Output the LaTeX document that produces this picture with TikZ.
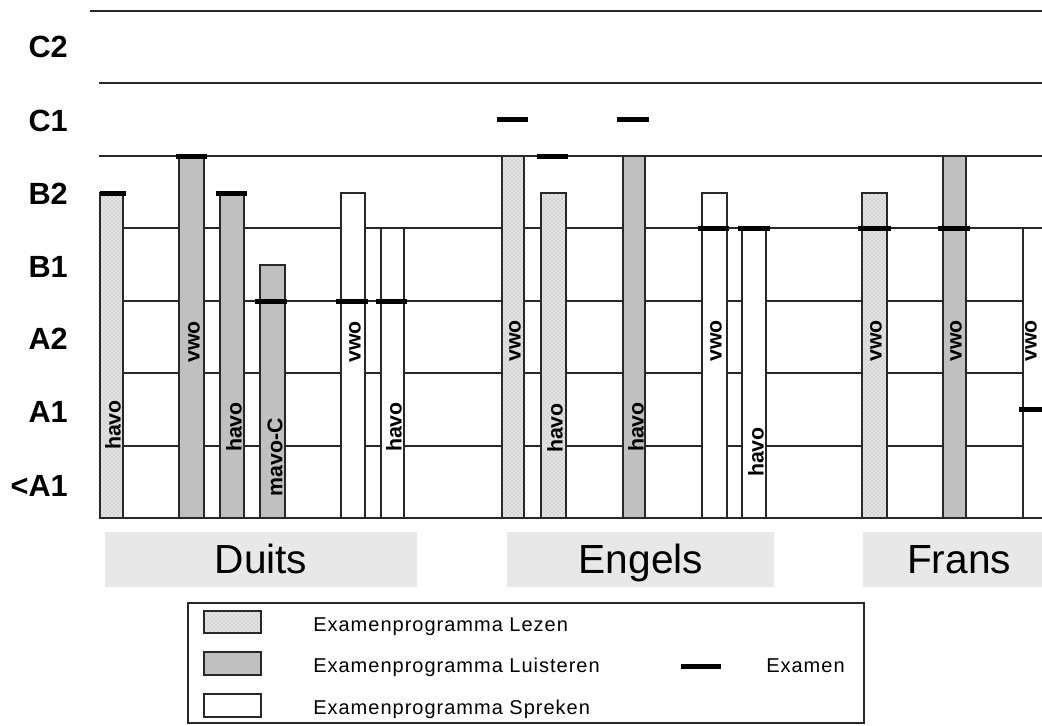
\documentclass[tikz,border=0pt]{standalone}
\usepackage{fontspec}
\setmainfont{Liberation Sans}
\newfontfamily\legfont[LetterSpace=5]{Liberation Sans}
\usetikzlibrary{patterns}
\definecolor{lezenbg}{RGB}{228,228,228}
\definecolor{lezendot}{RGB}{160,160,160}
\definecolor{luistc}{RGB}{192,192,192}
\definecolor{catbg}{RGB}{232,232,232}
\definecolor{linec}{RGB}{40,40,40}
\begin{document}
\begin{tikzpicture}[x=0.75pt,y=-0.75pt,
  gridline/.style={draw=linec,line width=0.8pt},
  barbase/.style={draw=linec,line width=0.8pt},
  lezen/.style={barbase,preaction={fill=lezenbg},pattern=crosshatch dots,pattern color=lezendot},
  luist/.style={barbase,fill=luistc},
  spreken/.style={barbase,fill=white},
  exammark/.style={draw=black,line width=3.75pt},
  levellab/.style={anchor=east,inner sep=0pt,font=\fontsize{23}{27}\selectfont\bfseries},
  barlab/.style={rotate=90,inner sep=0pt,font=\fontsize{16}{19}\selectfont\bfseries},
  catbox/.style={fill=catbg,draw=none},
  catlab/.style={anchor=base,inner sep=0pt,font=\fontsize{30.5}{36}\selectfont},
  legtext/.style={anchor=base west,inner sep=0pt,font=\legfont\fontsize{15}{18}\selectfont}
]
\useasboundingbox (0,0) rectangle (1042,725);
\clip (0,0) rectangle (1042,725);
\fill[white] (0,0) rectangle (1042,725);

% level grid lines
\draw[gridline] (90,11) -- (1042,11);
\foreach \yy in {83,156,228,301,373,446,518}
  \draw[gridline] (99,\yy) -- (1042,\yy);

% level labels
\node[levellab] (lC2) at (68,47) {C2};
\node[levellab] (lC1) at (68,121) {C1};
\node[levellab] (lB2) at (68,194) {B2};
\node[levellab] (lB1) at (68,267) {B1};
\node[levellab] (lA2) at (68,339) {A2};
\node[levellab] (lA1) at (68,412) {A1};
\node[levellab] (lA0) at (68,486) {<A1};

% Duits bars
\draw[lezen]   (100,193) rectangle (123,518);
\draw[luist]   (179,156) rectangle (204,518);
\draw[luist]   (220,193) rectangle (244,518);
\draw[luist]   (260,265) rectangle (285,518);
\draw[spreken] (341,193) rectangle (365,518);
\draw[spreken] (381,228) rectangle (404,518);
% Engels bars
\draw[lezen]   (502,156) rectangle (524,518);
\draw[lezen]   (541,193) rectangle (566,518);
\draw[luist]   (623,156) rectangle (645,518);
\draw[spreken] (702,193) rectangle (727,518);
\draw[spreken] (742,228) rectangle (766,518);
% Frans bars
\draw[lezen]   (862,193) rectangle (887,518);
\draw[luist]   (943,156) rectangle (966,518);
\draw[spreken] (1023,228) rectangle (1048,518);

% exam marks
\draw[exammark] (100,193) -- (126,193);
\draw[exammark] (176,156) -- (207,156);
\draw[exammark] (216,193) -- (247,193);
\draw[exammark] (255,301) -- (287,301);
\draw[exammark] (336,301) -- (368,301);
\draw[exammark] (376,301) -- (407,301);
\draw[exammark] (497,119) -- (528,119);
\draw[exammark] (537,156) -- (568,156);
\draw[exammark] (617,119) -- (649,119);
\draw[exammark] (698,228) -- (729,228);
\draw[exammark] (738,228) -- (770,228);
\draw[exammark] (858,228) -- (891,228);
\draw[exammark] (938,228) -- (970,228);
\draw[exammark] (1019,409) -- (1050,409);

% bar labels
\node[barlab] (d1) at (113,425) {havo};
\node[barlab] (d2) at (194,342) {vwo};
\node[barlab] (d3) at (234,427) {havo};
\node[barlab] (d4) at (275,457) {mavo-C};
\node[barlab] (d5) at (355,342) {vwo};
\node[barlab] (d6) at (394,427) {havo};
\node[barlab] (e1) at (515,341) {vwo};
\node[barlab] (e2) at (555,428) {havo};
\node[barlab] (e3) at (636,427) {havo};
\node[barlab] (e4) at (716,341) {vwo};
\node[barlab] (e5) at (756,452) {havo};
\node[barlab] (f1) at (876,341) {vwo};
\node[barlab] (f2) at (956,341) {vwo};
\node[barlab] (f3) at (1031,341) {vwo};

% category boxes
\fill[catbox] (105,532) rectangle (417,587);
\fill[catbox] (507,532) rectangle (774,587);
\fill[catbox] (863,532) rectangle (1055,587);
\node[catlab] (cD) at (261,573) {Duits};
\node[catlab] (cE) at (641,573) {Engels};
\node[catlab] (cF) at (959,573) {Frans};

% legend
\draw[draw=linec,line width=0.8pt] (188,603) rectangle (864,723);
\draw[lezen]   (204,611) rectangle (261,633);
\draw[luist]   (204,652) rectangle (261,675);
\draw[spreken] (204,694) rectangle (261,717);
\node[legtext] (t1) at (313,631) {Examenprogramma Lezen};
\node[legtext] (t2) at (313,672) {Examenprogramma Luisteren};
\node[legtext] (t3) at (313,714) {Examenprogramma Spreken};
\draw[exammark] (681,666) -- (721,666);
\node[legtext] (t4) at (766,672) {Examen};
\end{tikzpicture}
\end{document}
